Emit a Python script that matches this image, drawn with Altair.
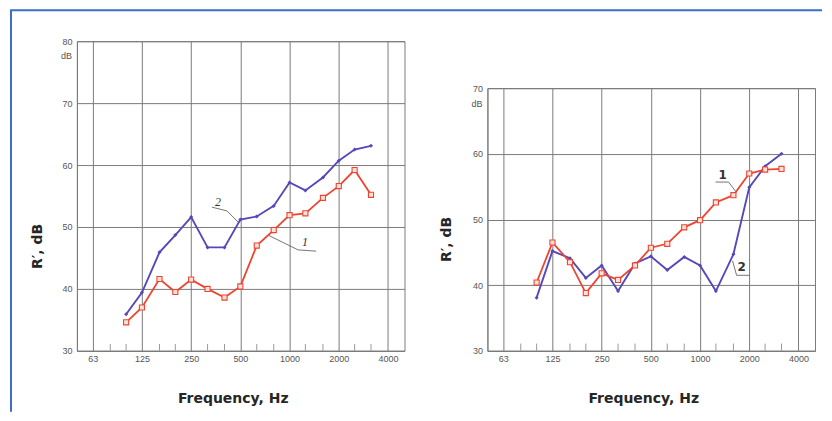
import altair as alt
import pandas as pd

# ---- data ----
freqs = [100, 125, 160, 200, 250, 315, 400, 500, 630, 800, 1000, 1250, 1600, 2000, 2500, 3150]
left_curve1 = [34.6, 37.0, 41.6, 39.5, 41.5, 40.0, 38.6, 40.4, 47.0, 49.5, 51.9, 52.2, 54.7, 56.6, 59.2, 55.2]
left_curve2 = [35.9, 39.4, 45.9, 48.7, 51.6, 46.7, 46.7, 51.2, 51.7, 53.4, 57.2, 55.9, 58.0, 60.7, 62.5, 63.1]
right_curve1 = [40.4, 46.5, 43.5, 38.8, 41.8, 40.8, 43.0, 45.7, 46.3, 48.8, 49.9, 52.6, 53.7, 57.0, 57.6, 57.7]
right_curve2 = [38.1, 45.2, 44.1, 41.1, 43.0, 39.1, 43.3, 44.4, 42.3, 44.3, 43.0, 39.1, 44.7, 54.9, 58.1, 60.0]
octave_ticks = [62.5, 125, 250, 500, 1000, 2000, 4000]
minor_ticks = [80, 100, 160, 200, 315, 400, 630, 800, 1250, 1600, 2500, 3150]
left_y_ticks = [30, 40, 50, 60, 70, 80]
right_y_ticks = [30, 40, 50, 60, 70]

# annotation leaders (frequency, dB) and labels
left_leaders_f = [[335, 414, 484], [1453, 1127, 738]]
left_leaders_r = [[53.2, 52.6, 50.8], [46.1, 46.3, 48.7]]
left_labels = ["2", "1"]
left_label_f = [365, 1244]
left_label_r = [54.0, 47.6]
right_leaders_f = [[1244, 1494, 1650], [1581, 1673, 2009]]
right_leaders_r = [[55.7, 55.7, 54.3], [43.7, 41.5, 41.5]]
right_labels = ["1", "2"]
right_label_f = [1373, 1795]
right_label_r = [56.8, 42.8]

RED = "#ee4430"
BLUE = "#5548b8"
GRID = "#7a7a7a"
LABEL = "#555555"
W = 328


def panel(c1, c2, ymin, ymax, height, yticks, lead_f, lead_r, labs, lab_f, lab_r,
          lab_font, lab_style, lab_weight, lab_size, ytitle_x, ytitle_y, frame=False):
    d1 = pd.DataFrame({"f": freqs, "R": c1})
    d2 = pd.DataFrame({"f": freqs, "R": c2})
    xs = alt.Scale(type="log", domain=[50, 5050], nice=False)
    ys = alt.Scale(domain=[ymin, ymax], nice=False, zero=False)
    xax = alt.Axis(values=octave_ticks, grid=True, gridColor=GRID, gridWidth=1,
                   domainColor=GRID, tickSize=0, labelPadding=4, labelFontSize=9,
                   labelColor=LABEL, labelFont="Liberation Sans", labelFlush=False,
                   labelExpr="datum.value == 62.5 ? '63' : format(datum.value, 'd')",
                   title="Frequency, Hz", titleFont="DejaVu Sans", titleFontSize=14,
                   titleFontWeight="bold", titleColor="#262626", titleX=156, titleY=48,
                   titleBaseline="middle")
    yax = alt.Axis(values=yticks, grid=True, gridColor=GRID, gridWidth=1,
                   domainColor=GRID, tickSize=0, labelPadding=5, labelFontSize=9,
                   labelColor=LABEL, labelFont="Liberation Sans", labelFlush=False,
                   title="R\u2032, dB", titleFont="DejaVu Sans", titleFontSize=14,
                   titleFontWeight="bold", titleColor="#262626", titleX=ytitle_x,
                   titleY=ytitle_y, titleBaseline="middle", titleAlign="center")
    base_x = alt.X("f:Q", scale=xs, axis=xax)
    base_y = alt.Y("R:Q", scale=ys, axis=yax)

    minor = pd.DataFrame({"f": minor_ticks, "R": [ymin] * len(minor_ticks),
                          "R2": [ymin + 1.1] * len(minor_ticks)})
    minor_layer = alt.Chart(minor).mark_rule(color="#9a9a9a", strokeWidth=1).encode(
        x=alt.X("f:Q"), y=alt.Y("R:Q"), y2="R2:Q")

    rows = []
    for i, (fl, rl) in enumerate(zip(lead_f, lead_r)):
        for j, (f, r) in enumerate(zip(fl, rl)):
            rows.append({"f": f, "R": r, "g": i, "o": j})
    leaders = alt.Chart(pd.DataFrame(rows)).mark_line(color="#666", strokeWidth=0.9).encode(
        x="f:Q", y="R:Q", detail="g:N", order="o:Q")
    labels = alt.Chart(pd.DataFrame({"f": lab_f, "R": lab_r, "t": labs})).mark_text(
        font=lab_font, fontStyle=lab_style, fontWeight=lab_weight, fontSize=lab_size,
        color="#333", baseline="middle").encode(x="f:Q", y="R:Q", text="t:N")

    line1 = alt.Chart(d1).mark_line(color=RED, strokeWidth=1.8).encode(x="f:Q", y="R:Q")
    pts1 = alt.Chart(d1).mark_point(shape="square", filled=True, fill="#fbe3dc", color=RED,
                                    stroke=RED, strokeWidth=1.1, size=26, opacity=1).encode(
        x="f:Q", y="R:Q")
    line2 = alt.Chart(d2).mark_line(color=BLUE, strokeWidth=1.9).encode(x="f:Q", y="R:Q")
    pts2 = alt.Chart(d2).mark_point(shape="diamond", filled=True, color=BLUE, size=16,
                                    opacity=1).encode(x="f:Q", y="R:Q")

    axes_layer = alt.Chart(d1).mark_point(opacity=0).encode(x=base_x, y=base_y)
    db = alt.Chart(pd.DataFrame({"t": ["dB"]})).mark_text(
        align="right", baseline="middle", fontSize=9, color=LABEL,
        font="Liberation Sans").encode(x=alt.value(-5), y=alt.datum(ymax - 2.4), text="t:N")

    layers = [axes_layer, minor_layer, leaders, line2, line1, pts2, pts1, labels, db]
    if frame:
        frame_left = alt.Chart(pd.DataFrame({"a": [0]})).mark_rule(
            color="#3b6fc6", strokeWidth=2).encode(
            x=alt.value(-66), y=alt.value(-31), y2=alt.value(371))
        frame_top = alt.Chart(pd.DataFrame({"a": [0]})).mark_rule(
            color="#3b6fc6", strokeWidth=2).encode(
            x=alt.value(-67), x2=alt.value(746), y=alt.value(-31))
        layers += [frame_left, frame_top]
    return alt.layer(*layers).properties(width=W, height=height)


left = panel(left_curve1, left_curve2, 30, 80, 310, left_y_ticks,
             left_leaders_f, left_leaders_r, left_labels, left_label_f, left_label_r,
             "Liberation Serif", "italic", "normal", 12, -39, 205, frame=True)
right = panel(right_curve1, right_curve2, 30, 70, 263, right_y_ticks,
              right_leaders_f, right_leaders_r, right_labels, right_label_f, right_label_r,
              "DejaVu Sans", "normal", "bold", 12, -41, 151)

spacer = alt.Chart(pd.DataFrame({"a": [0]})).mark_point(opacity=0).encode(
    x=alt.value(0), y=alt.value(0)).properties(
    width=W, height=47, view=alt.ViewBackground(stroke="transparent"))

right_col = alt.vconcat(spacer, right, spacing=0, bounds="flush")

chart = alt.hconcat(left, right_col, spacing=83, bounds="flush").properties(
    padding=0, background="white"
).configure_view(stroke=GRID, strokeWidth=1)

chart.save("out.html", embed_options={"renderer": "svg", "actions": False})
